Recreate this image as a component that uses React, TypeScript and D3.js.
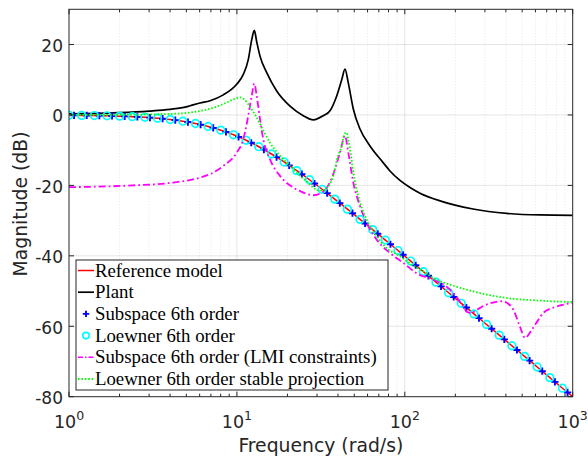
import React from 'react';
import * as d3 from 'd3';

// ---------- data ----------
const xTickValues = [1, 10, 100, 1000];
const xTickExponents = ['0', '1', '2', '3'];
const yTickValues = [-80, -60, -40, -20, 0, 20];

// Loewner 6th order (cyan circles)
const loewnerFreq = [1, 1.1894, 1.4149, 1.683, 2.0018, 2.3811, 2.8322, 3.3689, 4.0073, 4.7666, 5.6697, 6.744, 8.026, 9.5477, 11.357, 13.509, 16.069, 19.113, 22.735, 27.044, 32.168, 38.263, 45.513, 54.137, 64.395, 76.597, 91.11, 108.38, 128.91, 153.34, 182.39, 216.95, 258.07, 306.96, 365.13, 434.32, 516.62, 614.51, 730.95, 869.45];
const loewnerMag = [-0.086, -0.122, -0.172, -0.243, -0.341, -0.479, -0.671, -0.934, -1.294, -1.779, -2.423, -3.258, -4.319, -5.628, -7.196, -9.02, -11.085, -13.355, -15.807, -18.398, -21.103, -23.891, -26.743, -29.639, -32.57, -35.524, -38.498, -41.483, -44.474, -47.475, -50.477, -53.484, -56.494, -59.505, -62.519, -65.533, -68.545, -71.56, -74.574, -77.589];

// Subspace 6th order (blue pluses)
const subspaceFreq = [1.0719, 1.2749, 1.5166, 1.804, 2.1457, 2.5523, 3.0358, 3.6111, 4.2954, 5.1093, 6.0774, 7.2289, 8.6031, 10.234, 12.174, 14.48, 17.224, 20.487, 24.37, 28.988, 34.481, 41.014, 48.785, 58.029, 69.025, 82.104, 97.66, 116.17, 138.18, 164.37, 195.51, 232.55, 276.63, 329.03, 391.38, 465.55, 553.77, 658.69, 783.51, 931.96];
const subspaceMag = [-0.099, -0.14, -0.198, -0.278, -0.391, -0.548, -0.766, -1.065, -1.471, -2.016, -2.732, -3.655, -4.812, -6.224, -7.897, -9.819, -11.97, -14.319, -16.828, -19.466, -22.209, -25.025, -27.898, -30.808, -33.75, -36.712, -39.689, -42.678, -45.671, -48.675, -51.68, -54.69, -57.699, -60.712, -63.724, -66.738, -69.751, -72.766, -75.779, -78.795];

// Reference model end point
const referenceEndFreq = [1000];
const referenceEndMag = [-80];

// Plant (black)
const plantFreq = [1, 1.5, 2, 3, 4, 5, 5.26, 6.03, 6.92, 8.3, 9.97, 10.92, 11.69, 12.25, 12.7, 13.12, 13.73, 15.05, 17.26, 20.72, 24.86, 28.51, 32.7, 35.85, 39.3, 42.1, 44.04, 46.07, 49.35, 54.1, 62.05, 74.5, 81.6, 93.6, 107.4, 123.1, 162.1, 255, 405, 639, 1000];
const plantMag = [0.3, 0.45, 0.65, 1.1, 1.6, 2.3, 2.6, 3.4, 4.05, 5.7, 8.7, 11.5, 15.7, 21.3, 24.0, 20.8, 16.7, 12.0, 6.8, 2.5, -0.2, -1.4, -0.2, 1.2, 5.4, 10.0, 13.0, 9.1, 1.7, -4.0, -8.8, -13.6, -15.9, -18.6, -20.6, -22.2, -24.4, -26.7, -27.95, -28.4, -28.5];

// Subspace 6th order (LMI constraints) (magenta dash-dot)
const lmiFreq = [1, 2.4, 4.16, 6.03, 6.92, 8.3, 9.97, 10.92, 11.69, 12.25, 12.7, 13.12, 13.73, 14.36, 15.74, 18.06, 21.67, 24.0, 28.5, 32.7, 35.0, 37.5, 41.1, 44.04, 46.07, 49.35, 54.1, 59.3, 68.0, 81.6, 98.0, 118, 148, 178, 204, 220, 236, 250, 267, 290, 322, 378, 420, 443, 485, 520, 570, 620, 668, 803, 1000];
const lmiMag = [-20.5, -20.0, -19.2, -17.8, -16.8, -14.5, -10.7, -6.9, -0.2, 5.4, 8.9, 5.4, -1.2, -6.9, -12.6, -17.3, -20.6, -21.7, -22.8, -21.8, -20.0, -16.8, -10.7, -5.9, -10.7, -19.2, -25.9, -30.6, -35.4, -39.2, -42.0, -45.0, -46.8, -48.8, -51.8, -54.0, -56.0, -56.2, -55.4, -54.4, -53.5, -52.9, -53.9, -55.3, -60.1, -63.3, -61.0, -58.4, -56.2, -54.4, -53.4];

// Loewner 6th order stable projection (green dotted)
const stableFreq = [1, 2, 3, 4, 5, 6, 6.92, 8.3, 9.4, 10.0, 10.4, 10.92, 11.5, 11.9, 12.5, 13.1, 14.4, 15.7, 18.1, 21.7, 24.0, 26.0, 28.5, 31.0, 33.0, 34.3, 36.0, 37.5, 39.5, 42.1, 44.0, 45.0, 46.0, 47.2, 49.4, 52.8, 59.3, 68.0, 77.4, 93.6, 107.4, 128.9, 147.9, 185.9, 233.7, 293.6, 369.2, 464.2, 582.7, 732.5, 1000];
const stableMag = [0.0, 0.05, 0.15, 0.3, 0.55, 1.1, 1.8, 3.1, 4.3, 4.8, 5.0, 4.6, 3.5, 2.5, 1.0, -0.7, -4.5, -7.8, -11.6, -15.4, -17.5, -18.8, -20.6, -21.5, -21.3, -20.8, -19.4, -17.3, -12.6, -8.8, -5.2, -5.0, -7.0, -9.7, -16.4, -23.0, -29.7, -34.4, -37.7, -40.1, -42.2, -44.4, -46.3, -48.2, -49.6, -50.8, -51.7, -52.3, -52.6, -52.9, -53.1];

const legendLabels = [
  'Reference model',
  'Plant',
  'Subspace 6th order',
  'Loewner 6th order',
  'Subspace 6th order (LMI constraints)',
  'Loewner 6th order stable projection',
];

// ---------- layout ----------
const W = 588;
const H = 463;
const PL = 69;
const PR = 572.7;
const PT = 9.3;
const PB = 396.7;
const AX = '#262626';
const RED = '#ff0000';
const BLUE = '#0000ff';
const CYAN = '#00ffff';
const MAG = '#ff00ff';
const GREEN = '#00ff00';

type Pt = [number, number];
const zip = (f: number[], m: number[]): Pt[] => f.map((v, i) => [v, m[i]] as Pt);

export default function App() {
  const x = d3.scaleLog().domain([1, 1000]).range([PL, PR]);
  const y = d3.scaleLinear().domain([-80, 30]).range([PB, PT]);
  const line = d3
    .line<Pt>()
    .x((d) => x(d[0]))
    .y((d) => y(d[1]))
    .curve(d3.curveMonotoneX);

  const refPts: Pt[] = [
    ...zip(loewnerFreq, loewnerMag),
    ...zip(subspaceFreq, subspaceMag),
    ...zip(referenceEndFreq, referenceEndMag),
  ].sort((a, b) => a[0] - b[0]);

  const minor: number[] = [];
  [1, 10, 100].forEach((d) => {
    for (let m = 2; m <= 9; m++) minor.push(d * m);
  });

  const legX = 76;
  const legY = 260;
  const legW = 312;
  const legH = 130;
  const rowY = (i: number) => 270.5 + i * 21.7;
  const serif = '"Liberation Serif", "Times New Roman", serif';
  const sans = '"DejaVu Sans", Arial, sans-serif';

  return (
    <svg
      width={W}
      height={H}
      style={{ position: 'absolute', left: 0, top: 0, background: '#fff' }}
    >
      <defs>
        <clipPath id="plotClip">
          <rect x={PL} y={PT} width={PR - PL} height={PB - PT} />
        </clipPath>
      </defs>
      <rect x={0} y={0} width={W} height={H} fill="#fff" />

      {/* grid */}
      <g>
        {minor.map((v) => (
          <line
            key={'mg' + v}
            x1={x(v)}
            x2={x(v)}
            y1={PT}
            y2={PB}
            stroke={AX}
            strokeOpacity={0.2}
            strokeWidth={0.6}
            strokeDasharray="1,2"
          />
        ))}
        {xTickValues.slice(1, -1).map((v) => (
          <line key={'xg' + v} x1={x(v)} x2={x(v)} y1={PT} y2={PB} stroke={AX} strokeOpacity={0.15} strokeWidth={0.8} />
        ))}
        {yTickValues.slice(1).map((v) => (
          <line key={'yg' + v} x1={PL} x2={PR} y1={y(v)} y2={y(v)} stroke={AX} strokeOpacity={0.15} strokeWidth={0.8} />
        ))}
      </g>

      {/* curves */}
      <g clipPath="url(#plotClip)">
        <path d={line(refPts) || ''} fill="none" stroke={RED} strokeWidth={1.5} />
        <path d={line(zip(plantFreq, plantMag)) || ''} fill="none" stroke="#000" strokeWidth={1.7} />
        {zip(subspaceFreq, subspaceMag).map((d, i) => (
          <path
            key={'p' + i}
            d={`M${x(d[0]) - 3.6},${y(d[1])}H${x(d[0]) + 3.6}M${x(d[0])},${y(d[1]) - 3.6}V${y(d[1]) + 3.6}`}
            stroke={BLUE}
            strokeWidth={1.9}
            fill="none"
          />
        ))}
        {zip(loewnerFreq, loewnerMag).map((d, i) => (
          <circle key={'c' + i} cx={x(d[0])} cy={y(d[1])} r={3.8} fill="none" stroke={CYAN} strokeWidth={1.7} />
        ))}
        <path
          d={line(zip(lmiFreq, lmiMag)) || ''}
          fill="none"
          stroke={MAG}
          strokeWidth={1.8}
          strokeDasharray="7,3,1.8,3"
        />
        <path
          d={line(zip(stableFreq, stableMag)) || ''}
          fill="none"
          stroke={GREEN}
          strokeWidth={1.8}
          strokeDasharray="1.6,1.8"
        />
      </g>

      {/* axes box */}
      <rect x={PL} y={PT} width={PR - PL} height={PB - PT} fill="none" stroke={AX} strokeWidth={1} />

      {/* ticks */}
      <g stroke={AX} strokeWidth={1}>
        {xTickValues.map((v) => (
          <g key={'xt' + v}>
            <line x1={x(v)} x2={x(v)} y1={PB} y2={PB - 5} />
            <line x1={x(v)} x2={x(v)} y1={PT} y2={PT + 5} />
          </g>
        ))}
        {minor.map((v) => (
          <g key={'mt' + v}>
            <line x1={x(v)} x2={x(v)} y1={PB} y2={PB - 3} />
            <line x1={x(v)} x2={x(v)} y1={PT} y2={PT + 3} />
          </g>
        ))}
        {yTickValues.map((v) => (
          <g key={'yt' + v}>
            <line x1={PL} x2={PL + 5} y1={y(v)} y2={y(v)} />
            <line x1={PR} x2={PR - 5} y1={y(v)} y2={y(v)} />
          </g>
        ))}
      </g>

      {/* tick labels */}
      <g fontFamily={sans} fill={AX}>
        {yTickValues.map((v) => (
          <text key={'yl' + v} x={PL - 6} y={y(v) + 7.5} textAnchor="end" fontSize={17}>
            {v}
          </text>
        ))}
        {xTickValues.map((v, i) => (
          <text key={'xl' + v} x={x(v)} y={428} textAnchor="middle" fontSize={17.5}>
            10
            <tspan dy={-8} fontSize={12.5}>
              {xTickExponents[i]}
            </tspan>
          </text>
        ))}
        <text x={(PL + PR) / 2} y={452} textAnchor="middle" fontSize={18.8}>
          Frequency (rad/s)
        </text>
        <text transform={`translate(27,${(PT + PB) / 2 + 1}) rotate(-90)`} textAnchor="middle" fontSize={18.8}>
          Magnitude (dB)
        </text>
      </g>

      {/* legend */}
      <g>
        <rect x={legX} y={legY} width={legW} height={legH} fill="#fff" stroke={AX} strokeWidth={1} />
        {legendLabels.map((lab, i) => {
          const yy = rowY(i);
          let sample: React.ReactNode = null;
          if (i === 0) sample = <line x1={78} x2={94} y1={yy} y2={yy} stroke={RED} strokeWidth={1.5} />;
          if (i === 1) sample = <line x1={78} x2={94} y1={yy} y2={yy} stroke="#000" strokeWidth={1.7} />;
          if (i === 2)
            sample = (
              <path d={`M${86 - 3.2},${yy}H${86 + 3.2}M86,${yy - 3.2}V${yy + 3.2}`} stroke={BLUE} strokeWidth={1.9} />
            );
          if (i === 3) sample = <circle cx={86} cy={yy} r={3.2} fill="none" stroke={CYAN} strokeWidth={1.7} />;
          if (i === 4)
            sample = (
              <line x1={78} x2={94} y1={yy} y2={yy} stroke={MAG} strokeWidth={1.6} strokeDasharray="5,2,1.5,2" />
            );
          if (i === 5)
            sample = (
              <line x1={78} x2={94} y1={yy} y2={yy} stroke={GREEN} strokeWidth={1.8} strokeDasharray="1.6,1.8" />
            );
          return (
            <g key={'lg' + i}>
              {sample}
              <text x={95} y={yy + 6} fontFamily={serif} fontSize={18.8} fill="#000">
                {lab}
              </text>
            </g>
          );
        })}
      </g>
    </svg>
  );
}
